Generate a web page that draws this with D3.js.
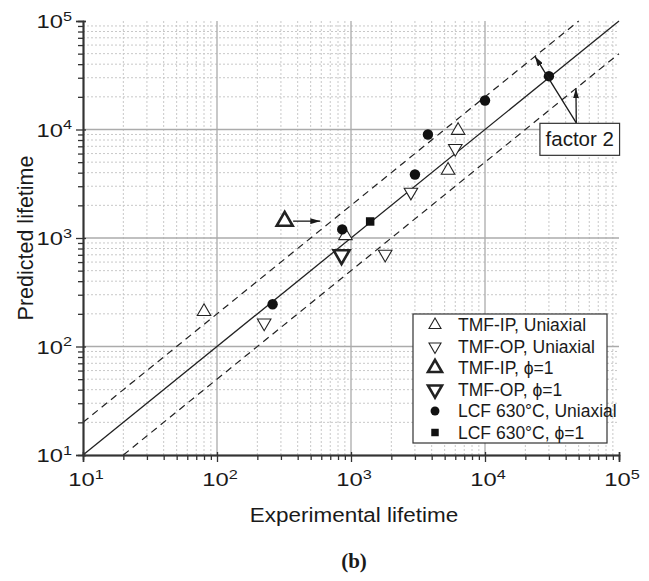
<!DOCTYPE html>
<html>
<head>
<meta charset="utf-8">
<script src="https://cdn.jsdelivr.net/npm/d3@7"></script>
<style>
  body { margin: 0; background: #fff; }
  svg text { font-family: "Liberation Sans", Arial, sans-serif; fill: #1a1a1a; }
</style>
</head>
<body>
<div id="chart"></div>
<script>
// ---- data (experimental lifetime, predicted lifetime) ----
const tmfIpUniaxial = [[80, 210], [910, 1050], [5300, 4200], [6300, 9800]];
const tmfOpUniaxial = [[225, 165], [1800, 710], [2800, 2650], [6000, 6700]];
const tmfIpPhi1 = [[320, 1430]];
const tmfOpPhi1 = [[850, 700]];
const lcfUniaxial = [[260, 245], [860, 1200], [3000, 3850], [3750, 9000], [10000, 18500], [30000, 31000]];
const lcfPhi1 = [[1390, 1420]];

const majorTicks = [10, 100, 1000, 10000, 100000];
const legendLabels = ["TMF-IP, Uniaxial", "TMF-OP, Uniaxial", "TMF-IP, \u03d5=1", "TMF-OP, \u03d5=1",
  "LCF 630\u00b0C, Uniaxial", "LCF 630\u00b0C, \u03d5=1"];

// reference lines: 1:1 and factor 2 bands
const unityLine = [[10, 10], [100000, 100000]];
const upperBand = [[10, 20], [50000, 100000]];
const lowerBand = [[20, 10], [100000, 50000]];

// annotation arrows [from, to] in data units
const shiftArrow = [[370, 1430], [590, 1430]];
const factorArrows = [[[48000, 11500], [23600, 47200]], [[48000, 11500], [47700, 23900]]];
const factorBox = [[25700, 11400], [101000, 5780]];

const margin = { top: 21, right: 30, bottom: 126, left: 83 };
const W = 649, H = 581;
const width = W - margin.left - margin.right;
const height = H - margin.top - margin.bottom;

const svg = d3.select('#chart').append('svg')
  .attr('width', W).attr('height', H);

svg.append('defs').append('marker')
  .attr('id', 'arrow')
  .attr('viewBox', '0 0 10 6')
  .attr('refX', 10).attr('refY', 3)
  .attr('markerWidth', 10).attr('markerHeight', 6)
  .attr('markerUnits', 'userSpaceOnUse')
  .attr('orient', 'auto')
  .append('path').attr('d', 'M0,0 L10,3 L0,6 Z').attr('fill', '#1a1a1a');

const chart = svg.append('g')
  .attr('transform', `translate(${margin.left},${margin.top})`);

const x = d3.scaleLog().domain([10, 100000]).range([0, width]);
const y = d3.scaleLog().domain([10, 100000]).range([height, 0]);

// minor values 2..9 in each decade
const minorTicks = [];
majorTicks.slice(0, -1).forEach(m => {
  for (let k = 2; k <= 9; k++) minorTicks.push(m * k);
});

// grid
const grid = chart.append('g').attr('class', 'grid');
grid.selectAll('.minor-x').data(minorTicks).join('line')
  .attr('x1', d => x(d)).attr('x2', d => x(d)).attr('y1', 0).attr('y2', height)
  .attr('stroke', '#c8c8c8').attr('stroke-width', 1).attr('stroke-dasharray', '2,2');
grid.selectAll('.minor-y').data(minorTicks).join('line')
  .attr('y1', d => y(d)).attr('y2', d => y(d)).attr('x1', 0).attr('x2', width)
  .attr('stroke', '#c8c8c8').attr('stroke-width', 1).attr('stroke-dasharray', '2,2');
grid.selectAll('.major-x').data(majorTicks.slice(1, -1)).join('line')
  .attr('x1', d => x(d)).attr('x2', d => x(d)).attr('y1', 0).attr('y2', height)
  .attr('stroke', '#ababab').attr('stroke-width', 1.3);
grid.selectAll('.major-y').data(majorTicks.slice(1, -1)).join('line')
  .attr('y1', d => y(d)).attr('y2', d => y(d)).attr('x1', 0).attr('x2', width)
  .attr('stroke', '#ababab').attr('stroke-width', 1.3);

// reference lines
const line = d3.line().x(d => x(d[0])).y(d => y(d[1]));
chart.append('path').datum(unityLine).attr('d', line)
  .attr('fill', 'none').attr('stroke', '#222').attr('stroke-width', 1.3);
[upperBand, lowerBand].forEach(b => {
  chart.append('path').datum(b).attr('d', line)
    .attr('fill', 'none').attr('stroke', '#222').attr('stroke-width', 1.2)
    .attr('stroke-dasharray', '7,5');
});

// axes — tick labels are drawn a bit wider than the font, as in the source figure
function supLabel(sel, d) {
  sel.append('tspan').text('10');
  sel.append('tspan').attr('dy', '-0.55em').style('font-size', '13px')
    .text(Math.round(Math.log10(d)));
}

const xAxisG = chart.append('g').attr('transform', `translate(0,${height})`);
xAxisG.call(d3.axisBottom(x).tickValues(minorTicks).tickSize(5).tickFormat(''));
xAxisG.append('g').call(d3.axisBottom(x).tickValues(majorTicks).tickSize(7).tickFormat(''));
xAxisG.append('g').call(d3.axisTop(x).tickValues(majorTicks).tickSize(3).tickFormat(''));
xAxisG.selectAll('.domain').attr('stroke', '#333').attr('stroke-width', 1.5);
xAxisG.selectAll('.tick line').attr('stroke', '#333').attr('stroke-width', 1.3);
xAxisG.selectAll('.x-label').data(majorTicks).join('text')
  .attr('transform', d => `translate(${x(d) + 3},31) scale(1.25,1)`)
  .attr('text-anchor', 'middle').style('font-size', '19px')
  .each(function (d) { supLabel(d3.select(this), d); });

const yAxisG = chart.append('g');
yAxisG.call(d3.axisLeft(y).tickValues(minorTicks).tickSize(5).tickFormat(''));
yAxisG.append('g').call(d3.axisLeft(y).tickValues(majorTicks).tickSize(7).tickFormat(''));
yAxisG.append('g').call(d3.axisRight(y).tickValues(majorTicks).tickSize(3).tickFormat(''));
yAxisG.selectAll('.domain').attr('stroke', '#333').attr('stroke-width', 1.5);
yAxisG.selectAll('.tick line').attr('stroke', '#333').attr('stroke-width', 1.3);
yAxisG.selectAll('.y-label').data(majorTicks).join('text')
  .attr('transform', d => `translate(-11,${y(d) + 7}) scale(1.25,1)`)
  .attr('text-anchor', 'end').style('font-size', '19px')
  .each(function (d) { supLabel(d3.select(this), d); });

// axis titles
chart.append('text')
  .attr('transform', `translate(${width / 2 + 3},${height + 67}) scale(1.07,1)`)
  .attr('text-anchor', 'middle').style('font-size', '21px')
  .text('Experimental lifetime');
svg.append('text')
  .attr('transform', `translate(33,${margin.top + height / 2}) rotate(-90)`)
  .attr('text-anchor', 'middle').style('font-size', '21.5px')
  .text('Predicted lifetime');
svg.append('text')
  .attr('x', margin.left + width / 2 + 3).attr('y', 568)
  .attr('text-anchor', 'middle')
  .style('font-family', '"Liberation Serif", "Times New Roman", serif')
  .style('font-weight', 'bold').style('font-size', '21px')
  .text('(b)');

// markers
const triUp = (w) => d3.symbol().type(d3.symbolTriangle).size(Math.sqrt(3) / 4 * w * w)();
const series = [
  { data: tmfIpUniaxial, path: triUp(13.5), rot: 0, fill: '#fff', sw: 1.1, leg: triUp(12) },
  { data: tmfOpUniaxial, path: triUp(13.5), rot: 180, fill: '#fff', sw: 1.1, leg: triUp(12) },
  { data: tmfIpPhi1, path: triUp(16), rot: 0, fill: '#fff', sw: 2.6, leg: triUp(14) },
  { data: tmfOpPhi1, path: triUp(16), rot: 180, fill: '#fff', sw: 2.6, leg: triUp(14) },
  { data: lcfUniaxial, path: d3.symbol().type(d3.symbolCircle).size(85)(), rot: 0, fill: '#111', sw: 0, leg: d3.symbol().type(d3.symbolCircle).size(62)() },
  { data: lcfPhi1, path: d3.symbol().type(d3.symbolSquare).size(72)(), rot: 0, fill: '#111', sw: 0, leg: d3.symbol().type(d3.symbolSquare).size(56)() }
];

series.forEach((s, i) => {
  chart.selectAll(`.pt-${i}`).data(s.data).join('path')
    .attr('class', `pt-${i}`)
    .attr('d', s.path)
    .attr('transform', d => `translate(${x(d[0])},${y(d[1])}) rotate(${s.rot})`)
    .attr('fill', s.fill).attr('stroke', '#222').attr('stroke-width', s.sw)
    .attr('stroke-linejoin', 'miter');
});

// annotation arrows
chart.append('path').datum(shiftArrow).attr('d', line)
  .attr('stroke', '#1a1a1a').attr('stroke-width', 1.3).attr('marker-end', 'url(#arrow)');
factorArrows.forEach(a => {
  chart.append('path').datum(a).attr('d', line)
    .attr('stroke', '#1a1a1a').attr('stroke-width', 1.3).attr('marker-end', 'url(#arrow)');
});
const bx0 = x(factorBox[0][0]), by0 = y(factorBox[0][1]);
const bx1 = x(factorBox[1][0]), by1 = y(factorBox[1][1]);
chart.append('rect')
  .attr('x', bx0).attr('y', by0).attr('width', bx1 - bx0).attr('height', by1 - by0)
  .attr('fill', '#fff').attr('stroke', '#333').attr('stroke-width', 1.2);
chart.append('text')
  .attr('x', (bx0 + bx1) / 2).attr('y', (by0 + by1) / 2 + 7)
  .attr('text-anchor', 'middle').style('font-size', '20.5px')
  .text('factor 2');

// legend
const legend = svg.append('g').attr('transform', 'translate(413,314)');
legend.append('rect').attr('width', 194).attr('height', 129)
  .attr('fill', '#fff').attr('stroke', '#333').attr('stroke-width', 1.2);
const rows = legend.selectAll('.leg-row').data(series).join('g')
  .attr('transform', (d, i) => `translate(0,${11 + i * 21.5})`);
rows.append('path')
  .attr('d', d => d.leg)
  .attr('transform', d => `translate(22,0) rotate(${d.rot})`)
  .attr('fill', d => d.fill).attr('stroke', '#222').attr('stroke-width', d => d.sw);
rows.append('text')
  .attr('x', 45).attr('y', 6)
  .style('font-size', '17.5px')
  .text((d, i) => legendLabels[i]);
</script>
</body>
</html>
